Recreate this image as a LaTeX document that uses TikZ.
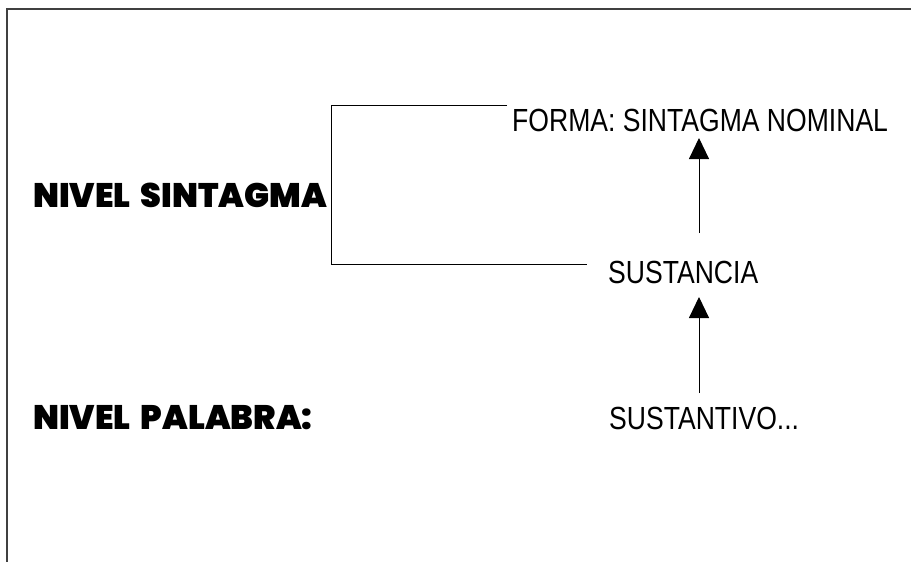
\documentclass[tikz,border=0pt]{standalone}
\usepackage{fontspec}
\usetikzlibrary{arrows.meta}
\setmainfont{Liberation Sans}
\newfontfamily\narrowfont[FakeStretch=0.83]{Liberation Sans}
\newfontfamily\heavyfont[WordSpace=1.8,FakeStretch=0.98]{Poppins Black}
\begin{document}
\begin{tikzpicture}[x=1pt,y=-1pt,
  level/.style={font=\heavyfont\fontsize{34}{34}\selectfont, inner sep=0pt, anchor=west},
  item/.style={font=\narrowfont\fontsize{32}{32}\selectfont, inner sep=0pt, anchor=west},
  link/.style={line width=1pt, black},
  up/.style={line width=1pt, -{Triangle[width=20pt,length=21pt]}}]
\useasboundingbox (0,0) rectangle (911,562);
% frame edges along the top and the left
\draw[line width=2pt, black!75] (7,562) -- (7,9) -- (911,9);
% level labels
\node[level] (sint) at (33,195) {NIVEL SINTAGMA};
\node[level] (pal) at (33,418) {NIVEL PALABRA:};
% right column
\node[item] (forma) at (512,120) {FORMA: SINTAGMA NOMINAL};
\node[item] (sust) at (608,272) {SUSTANCIA};
\node[item] (sustantivo) at (609,418) {SUSTANTIVO...};
% bracket joining the two items of the phrase level
\coordinate (bt) at (507,105);
\coordinate (bb) at (587,264);
\draw[link] (bt) -- (331,105) -- (331,264) -- (bb);
% upward arrows
\draw[up] (699,393) -- (699,297);
\draw[up] (699,233) -- (699,138);
\end{tikzpicture}
\end{document}
